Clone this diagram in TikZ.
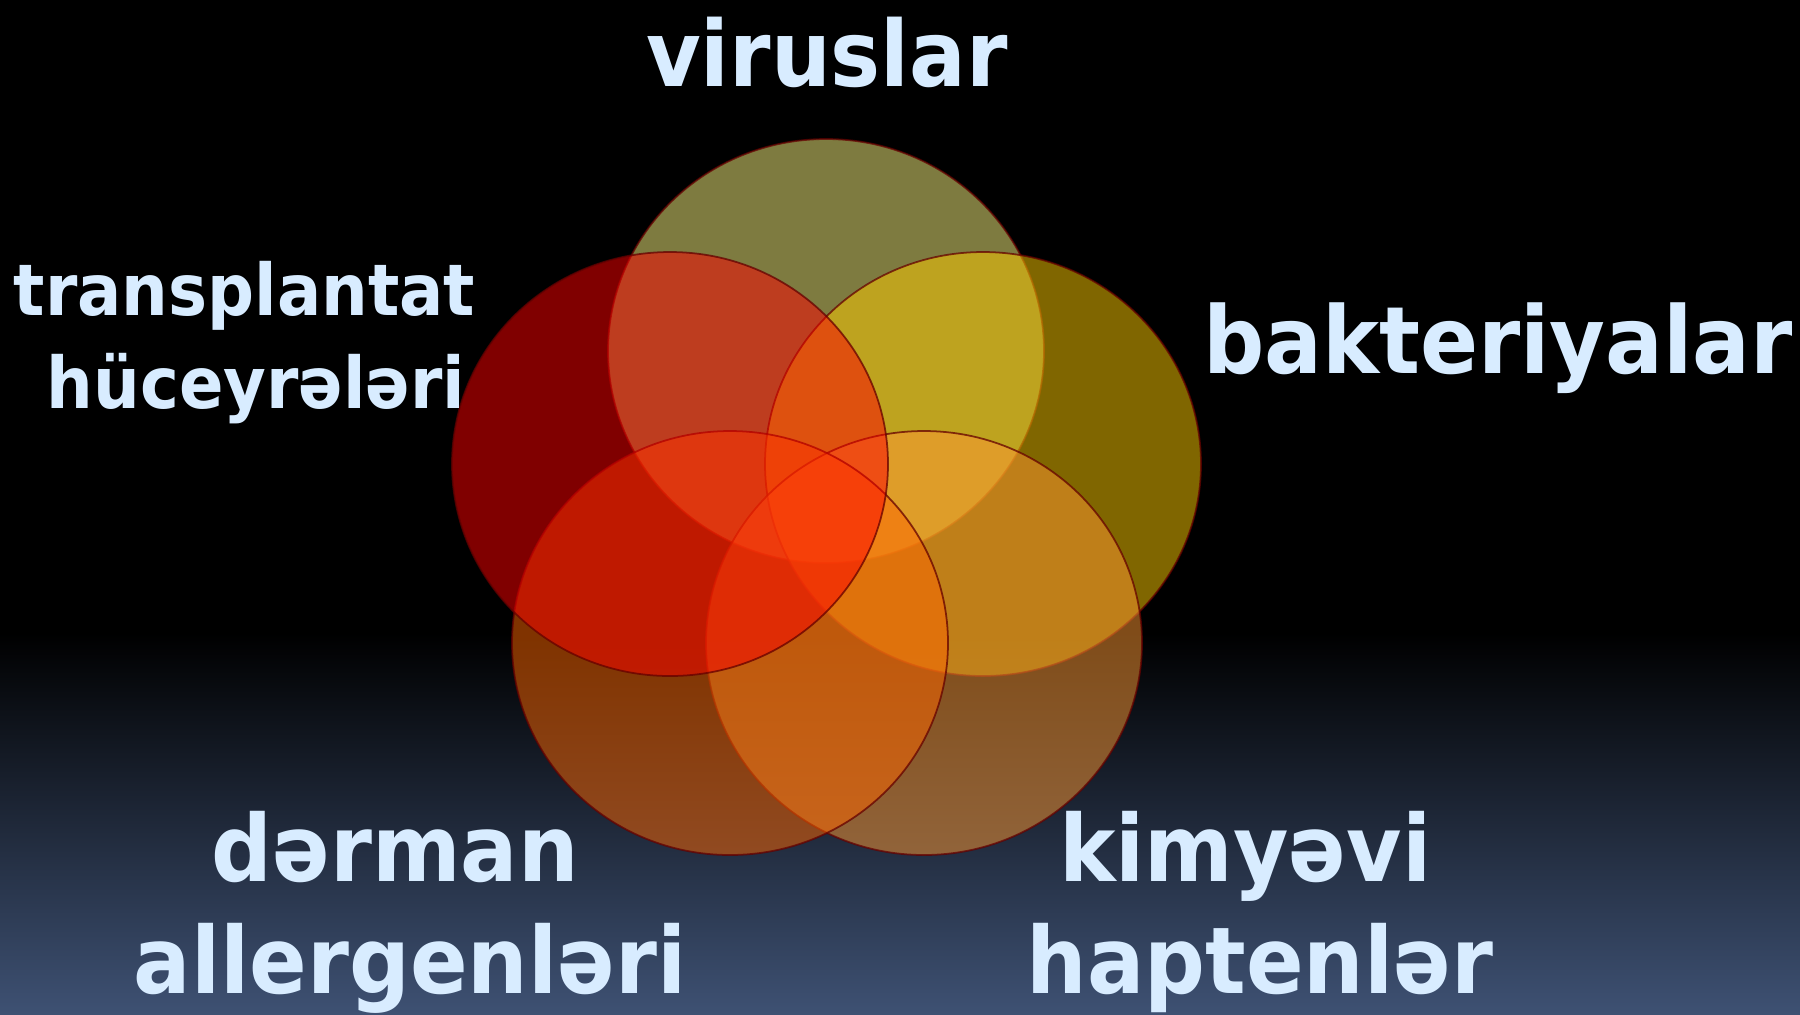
\documentclass[tikz,border=0pt]{standalone}
\usepackage{fontspec}
\setmainfont{DejaVu Sans}[FakeStretch=0.92]
\usetikzlibrary{shapes.geometric}
\definecolor{lblcol}{RGB}{216,236,255}
\definecolor{bgbot}{RGB}{62,81,115}
\definecolor{cvirus}{RGB}{252,246,128}
\definecolor{cbakt}{RGB}{255,204,0}
\definecolor{ckimya}{RGB}{255,153,51}
\definecolor{cderman}{RGB}{255,102,0}
\definecolor{ctrans}{RGB}{255,0,0}
\definecolor{rim}{RGB}{100,0,0}

\begin{document}
\begin{tikzpicture}[x=0.1mm, y=-0.1mm,
    every node/.style={inner sep=0pt, outer sep=0pt},
    venn/.style={ellipse, minimum width=43.6mm, minimum height=42.4mm, fill opacity=0.5, draw=rim, draw opacity=0.75, line width=0.5pt},
    etiket/.style={text=lblcol, align=center, anchor=base}]
    % fon
    \fill[black] (0,0) rectangle (1800,1014);
    \shade[top color=black, bottom color=bgbot] (0,633) rectangle (1800,1014);
    \useasboundingbox (0,0) rectangle (1800,1014);

    % dairələr: yuxarıdan başlayıb saat əqrəbi istiqamətində
    \node (virus) [venn, fill=cvirus] at (826,351) {};
    \node (bakt) [venn, fill=cbakt] at (983,464) {};
    \node (kimya) [venn, fill=ckimya] at (924,643) {};
    \node (derman) [venn, fill=cderman] at (730,643) {};
    \node (transp) [venn, fill=ctrans] at (670,464) {}; % ən üstdə

    % yazılar (iki sətirlilərdə base = ikinci sətir)
    \node (lvirus) [etiket, font=\bfseries\fontsize{26}{31}\selectfont] at (827,86) {viruslar};
    \node (lbakt) [etiket, font=\bfseries\fontsize{26.5}{32}\selectfont] at (1498,373) {bakteriyalar};
    \node (ltransp) [etiket, font=\bfseries\fontsize{20.3}{26.2}\selectfont] at (256,408) {transplantat\hphantom{\ }\\hüceyrələri};
    \node (lderman) [etiket, font=\bfseries\fontsize{26.3}{31.6}\selectfont] at (410,993) {dərman\hphantom{\ }\\allergenləri};
    \node (lkimya) [etiket, font=\bfseries\fontsize{26.3}{31.6}\selectfont] at (1260,993) {kimyəvi\hphantom{\ }\\haptenlər};
\end{tikzpicture}
\end{document}
